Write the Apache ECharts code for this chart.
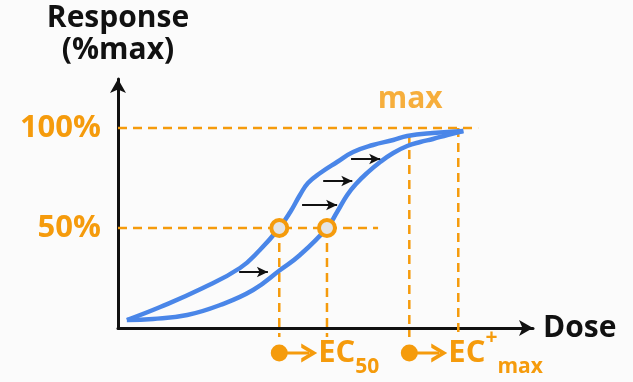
<!DOCTYPE html>
<html>
<head>
<meta charset="utf-8">
<script src="https://cdn.jsdelivr.net/npm/echarts@6/dist/echarts.min.js"></script>
<style>
html,body{margin:0;padding:0;background:#fbfbfb;}
#c{width:633px;height:382px;}
</style>
</head>
<body>
<div id="c"></div>
<script>
// ---- data (dose in arbitrary units, response in %max) ----
const curveBefore = [[2.1,4],[10.0,10.5],[20.1,20],[28.9,30],[33.6,39],[38.2,50],[40.8,58],[43.1,66.5],[45.0,72.5],[47.9,77.5],[51.9,83],[55.7,88],[60.4,91.5],[65.2,94],[68.5,96],[74.6,97.5],[81.8,98.5]];
const curveAfter  = [[2.1,4],[8.3,4.5],[16.4,6.5],[24.2,11.5],[32.0,19],[38.4,29],[43.1,36.5],[49.5,50],[51.9,58],[54.3,66.5],[56.6,72.5],[59.0,77.5],[62.1,83],[65.2,87.5],[68.5,91],[71.6,93],[74.6,94.5],[78.0,96.5],[81.8,98.5]];
const shiftArrows = [[28.7,35.5,28],[43.6,51.9,61.5],[48.6,55.5,73.5],[55.2,62.1,84.5]]; // [fromDose,toDose,response]
const ec50Doses = [38.2, 49.5];
const ecMaxDoses = [69.0, 80.6];
const ecMaxTop = [96.5, 100];
const yTickValues = [50, 100];
const hLineEnds = {50: 61.6, 100: 85.3};

const ORANGE = '#f59b0c';
const BLUE = '#4a86e8';
const FONT = 'Open Sans';
const BOTTOM_Y = -12.5;
const DASH_BOTTOM = -4.5;

const series = [];
function guide(pts){
  series.push({type:'line', data:pts, symbol:'none', clip:false, silent:true, z:1,
    lineStyle:{color:ORANGE, width:2.5, type:[9,6]}});
}
yTickValues.forEach(v => guide([[0,v],[hLineEnds[v],v]]));
ec50Doses.forEach(d => guide([[d,50],[d,DASH_BOTTOM]]));
ecMaxDoses.forEach((d,i) => guide([[d,ecMaxTop[i]],[d,DASH_BOTTOM]]));

series.push({type:'line', data:curveBefore, smooth:0.45, symbol:'none', z:3,
  lineStyle:{color:BLUE, width:4.5}});
series.push({type:'line', data:curveAfter, smooth:0.45, symbol:'none', z:3,
  lineStyle:{color:BLUE, width:4.5}});

// shift arrows
series.push({type:'line', data:[], z:4, markLine:{silent:true, symbol:['none','arrow'], symbolSize:[8,11],
  label:{show:false}, lineStyle:{color:'#111', width:2, type:'solid'},
  data: shiftArrows.map(a => [{coord:[a[0],a[2]]},{coord:[a[1],a[2]]}])}});

// EC50 circles
series.push({type:'scatter', data:ec50Doses.map(d=>[d,50]), symbolSize:16, z:5, silent:true,
  itemStyle:{color:'#e4e4e4', borderColor:ORANGE, borderWidth:4, opacity:1}});

// "max" label
series.push({type:'scatter', data:[[69.2,114.5]], symbolSize:0, z:5, clip:false, silent:true,
  label:{show:true, position:'inside', formatter:'max', color:ORANGE, fontFamily:FONT, fontWeight:'bold', fontSize:30}});

// bottom annotations
const chevron = 'path://M0,0 L18,10 L0,20 L0,15.5 L10,10 L0,4.5 Z';
const rich = {
  e:{fontSize:31, fontWeight:'bold', fontFamily:FONT, color:ORANGE, lineHeight:50, verticalAlign:'middle'},
  sub:{fontSize:21, fontWeight:'bold', fontFamily:FONT, color:ORANGE, lineHeight:16, verticalAlign:'bottom'},
  sup:{fontSize:21, fontWeight:'bold', fontFamily:FONT, color:ORANGE, lineHeight:26, verticalAlign:'top'}
};
const annots = [[ec50Doses[0], '{e|EC}{sub|50}'], [ecMaxDoses[0], '{e|EC}{sup|+}{sub|max}']];
annots.forEach(a => {
  series.push({type:'line', clip:false, z:5, silent:true,
    lineStyle:{color:ORANGE, width:3},
    itemStyle:{color:ORANGE, opacity:1},
    data:[
      {value:[a[0],BOTTOM_Y], symbol:'circle', symbolSize:17},
      {value:[a[0]+7.1,BOTTOM_Y], symbol:chevron, symbolSize:[16,19],
       label:{show:true, position:'right', distance:1, formatter:a[1], rich:rich}}
    ]});
});

const chart = echarts.init(document.getElementById('c'), null, {renderer:'canvas'});
chart.setOption({
  backgroundColor:'#fbfbfb',
  animation:false,
  grid:{left:118, right:100, top:79, bottom:54},
  xAxis:{type:'value', min:0, max:98.3, name:'Dose', nameLocation:'end', nameGap:10,
    nameTextStyle:{color:'#111', fontFamily:FONT, fontWeight:'bold', fontSize:30, verticalAlign:'middle'},
    axisLine:{show:true, onZero:false, lineStyle:{color:'#111', width:3}, symbol:['none','arrow'], symbolSize:[12,14]},
    axisTick:{show:false}, axisLabel:{show:false}, splitLine:{show:false}},
  yAxis:{type:'value', min:0, max:124.5, interval:50, name:'Response\n(%max)', nameLocation:'end', nameGap:13,
    nameTextStyle:{color:'#111', fontFamily:FONT, fontWeight:'bold', fontSize:30, lineHeight:32, align:'center'},
    axisLine:{show:true, lineStyle:{color:'#111', width:3}, symbol:['none','arrow'], symbolSize:[12,14]},
    axisTick:{show:false}, splitLine:{show:false},
    axisLabel:{margin:17, color:ORANGE, fontFamily:FONT, fontWeight:'bold', fontSize:31,
      formatter: v => yTickValues.indexOf(v) >= 0 ? v + '%' : ''}},
  series: series
});
</script>
</body>
</html>
